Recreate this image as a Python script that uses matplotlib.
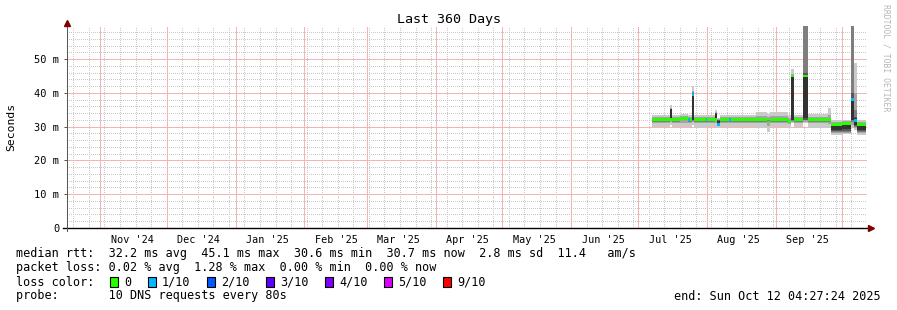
import matplotlib
matplotlib.use('Agg')
import matplotlib.pyplot as plt
import matplotlib.dates as mdates
from matplotlib.patches import Rectangle
import numpy as np
import pandas as pd

plt.rcParams['font.family'] = ['DejaVu Sans Mono', 'DejaVu Sans']

W, H = 897, 310

# time frame of the graph (360 days)
view_start = pd.Timestamp('2024-10-17 12:00')
view_end = pd.Timestamp('2025-10-12 12:00')
y_top_ms = 59.8

# smokeping samples: one entry per consolidated stretch
seg_start = ['2025-07-07 18:00', '2025-07-16 00:00', '2025-07-17 00:00', '2025-07-20 12:00',
             '2025-07-24 00:00', '2025-07-25 00:00', '2025-07-25 18:00', '2025-07-26 18:00',
             '2025-08-01 00:00', '2025-08-01 18:00', '2025-08-05 06:00', '2025-08-06 06:00',
             '2025-08-07 10:00', '2025-08-11 12:00', '2025-08-12 12:00', '2025-08-23 12:00',
             '2025-08-28 12:00', '2025-08-30 00:00', '2025-09-07 00:00', '2025-09-08 12:00',
             '2025-09-10 00:00', '2025-09-14 00:00', '2025-09-16 00:00', '2025-09-25 00:00',
             '2025-09-26 12:00', '2025-10-01 12:00', '2025-10-05 12:00', '2025-10-07 00:00',
             '2025-10-08 04:00']
seg_end = '2025-10-12 06:00'

median_ms = [32.0, 32.0, 32.0, 32.4, 32.0, 32.0, 39.5, 32.0, 32.0, 32.0, 32.0, 30.7,
             32.0, 32.0, 32.0, 32.0, 31.4, 32.0, 31.6, 45.0, 32.0, 45.0, 32.0, 32.0,
             30.6, 30.9, 38.0, 31.8, 30.7]
loss_count = [0, 0, 0, 0, 1, 0, 1, 0, 1, 0, 0, 1,
              0, 1, 0, 0, 0, 0, 0, 0, 0, 0, 0, 0,
              0, 0, 1, 1, 0]

# smoke bands, outer (1/10) to inner (5/6) ping ranks, ms
smoke1_lo = [29.9, 30.5, 29.8, 29.9, 29.8, 29.8, 30.5, 29.7, 29.7, 29.8, 30.0, 29.5,
             29.8, 29.8, 29.8, 29.7, 28.5, 29.8, 29.5, 31.0, 29.8, 31.0, 29.6, 29.5,
             27.6, 27.7, 30.0, 29.0, 27.6]
smoke1_hi = [33.4, 36.4, 33.6, 33.8, 33.6, 33.6, 42.0, 33.5, 33.5, 33.4, 34.8, 32.6,
             33.5, 33.5, 33.6, 34.2, 33.8, 34.2, 33.4, 47.0, 33.5, 70.0, 33.8, 35.5,
             32.0, 32.1, 70.0, 48.8, 32.0]
smoke2_lo = [31.0, 31.4, 31.0, 31.2, 31.0, 31.0, 31.5, 31.0, 31.0, 31.0, 31.2, 30.2,
             31.0, 31.0, 31.0, 31.0, 30.2, 31.0, 30.8, 31.5, 31.0, 31.5, 31.0, 30.8,
             28.1, 28.2, 30.5, 29.5, 28.1]
smoke2_hi = [32.8, 35.6, 32.9, 33.2, 32.9, 32.9, 40.6, 32.8, 32.8, 32.8, 34.2, 32.2,
             32.8, 32.8, 32.9, 33.2, 32.8, 33.2, 32.6, 45.6, 32.9, 70.0, 32.9, 33.6,
             31.5, 31.6, 70.0, 40.0, 31.5]
smoke3_lo = [31.5, 31.8, 31.5, 31.9, 31.5, 31.5, 31.8, 31.5, 31.5, 31.5, 31.7, 30.6,
             31.5, 31.5, 31.5, 31.5, 31.0, 31.5, 31.3, 31.8, 31.5, 32.0, 31.5, 31.5,
             28.4, 28.5, 31.5, 30.0, 28.4]
smoke3_hi = [32.4, 35.3, 32.4, 32.8, 32.4, 32.4, 40.2, 32.4, 32.4, 32.4, 34.0, 32.0,
             32.4, 32.4, 32.4, 32.5, 32.0, 32.5, 32.0, 45.3, 32.4, 66.0, 32.4, 32.5,
             31.2, 31.3, 62.0, 35.0, 31.2]
smoke4_lo = [31.7, 31.9, 31.7, 32.1, 31.7, 31.7, 31.9, 31.7, 31.7, 31.7, 31.9, 30.8,
             31.7, 31.7, 31.7, 31.7, 31.2, 31.7, 31.4, 31.9, 31.7, 32.0, 31.7, 31.7,
             28.7, 28.8, 32.0, 30.2, 28.7]
smoke4_hi = [32.2, 35.2, 32.2, 32.6, 32.2, 32.2, 40.0, 32.2, 32.2, 32.2, 33.9, 31.9,
             32.2, 32.2, 32.2, 32.2, 31.7, 32.2, 31.9, 45.2, 32.2, 46.0, 32.2, 32.2,
             30.9, 31.0, 40.0, 33.0, 30.9]
smoke5_lo = [31.9, 32.0, 31.9, 32.3, 31.9, 31.9, 32.0, 31.9, 31.9, 31.9, 32.0, 31.0,
             31.9, 31.9, 31.9, 31.9, 31.3, 31.9, 31.5, 32.0, 31.9, 32.5, 31.9, 31.9,
             29.0, 29.2, 32.0, 30.5, 29.0]
smoke5_hi = [32.1, 35.1, 32.1, 32.5, 32.1, 32.1, 39.8, 32.1, 32.1, 32.1, 33.8, 31.8,
             32.1, 32.1, 32.1, 32.1, 31.5, 32.1, 31.8, 45.1, 32.1, 45.2, 32.1, 32.1,
             30.4, 30.6, 38.5, 32.5, 30.4]

loss_labels = ['0', '1/10', '2/10', '3/10', '4/10', '5/10', '9/10']
loss_keys = [0, 1, 2, 3, 4, 5, 9]
loss_colors = ['#26ff00', '#00b8ff', '#0059ff', '#5e00ff', '#7e00ff', '#dd00ff', '#ff0000']

rtt_stats = [32.2, 45.1, 30.6, 30.7]
rtt_sd = 2.8
rtt_ams = 11.4
loss_stats = [0.02, 1.28, 0.00, 0.00]
probe_text = '10 DNS requests every 80s'
end_text = 'end: Sun Oct 12 04:27:24 2025'

smoke_colors = ['#cacaca', '#a4a4a4', '#7e7e7e', '#585858', '#323232']
grid_gray = '#c8c8c8'
grid_red = '#f7b2b2'


def px_x(x):
    return x / W


def px_y(y):
    return 1 - y / H


fig = plt.figure(figsize=(W / 100, H / 100), dpi=100)
ax = fig.add_axes([66.7 / W, (H - 228) / H, 800 / W, 202 / H])

t = mdates.date2num(pd.to_datetime(seg_start + [seg_end]))

def ext(v):
    return list(v) + [v[-1]]

bands = [(smoke1_lo, smoke1_hi), (smoke2_lo, smoke2_hi), (smoke3_lo, smoke3_hi),
         (smoke4_lo, smoke4_hi), (smoke5_lo, smoke5_hi)]
for (lo, hi), c in zip(bands, smoke_colors):
    ax.fill_between(t, ext(lo), ext(hi), step='post', color=c, lw=0, zorder=3,
                    antialiased=False)

# median drawn as a thin band in the loss colour
half = 0.42
col_of = dict(zip(loss_keys, loss_colors))
for i, m in enumerate(median_ms):
    ax.fill_between([t[i], t[i + 1]], m - half, m + half, color=col_of[loss_count[i]],
                    lw=0, zorder=4, antialiased=False)

# grid
x0 = mdates.date2num(view_start)
x1 = mdates.date2num(view_end)
minor_kw = dict(lw=0.72, ls=(0, (1, 2)), antialiased=False, color=grid_gray, zorder=1)
major_kw = dict(lw=0.72, ls=(0, (1, 1)), antialiased=False, color=grid_red, zorder=2)
for d in pd.date_range(view_start, view_end, freq='W-SUN'):
    ax.axvline(mdates.date2num(d), **minor_kw)
for d in pd.date_range(view_start, view_end, freq='MS'):
    ax.axvline(mdates.date2num(d), **major_kw)
for v in np.arange(2, 60, 2):
    if v % 10 == 0:
        ax.axhline(v, **major_kw)
    else:
        ax.axhline(v, **minor_kw)

ax.set_xlim(x0, x1)
ax.set_ylim(0, y_top_ms)
for s in ax.spines.values():
    s.set_visible(False)

# axes with arrows
ax.plot([-4 / 800, 1 + 2 / 800], [0, 0], transform=ax.transAxes, clip_on=False,
        color='black', lw=1.0, zorder=6)
ax.plot([0, 0], [-3 / 202, 1], transform=ax.transAxes, clip_on=False,
        color='#555555', lw=0.72, zorder=6, antialiased=False)
ax.plot([1 + 4 / 800], [0], marker='>', ms=4, color='#7f0000', transform=ax.transAxes,
        clip_on=False, zorder=7)
ax.plot([0], [1 + 3 / 202], marker='^', ms=4, color='#7f0000', transform=ax.transAxes,
        clip_on=False, zorder=7)

yt = [0, 10, 20, 30, 40, 50]
ax.set_yticks(yt)
ax.set_yticklabels(['0'] + ['%d m' % v for v in yt[1:]])
ax.tick_params(axis='y', length=2, width=0.72, color='#555555', pad=3.4, labelsize=7.5)

months = pd.date_range('2024-11-01', '2025-09-01', freq='MS')
ax.set_xticks(mdates.date2num(months + pd.Timedelta(days=15)))
ax.set_xticklabels([m.strftime("%b '%y") for m in months])
ax.tick_params(axis='x', length=0, pad=5.0, labelsize=7.3)

# titles
fig.text(0.5, px_y(19), 'Last 360 Days', ha='center', va='center', fontsize=9.6)
fig.text(px_x(11), px_y(127), 'Seconds', rotation=90, ha='center', va='center', fontsize=8.2)
fig.text(px_x(886), px_y(4), 'RRDTOOL / TOBI OETIKER', rotation=270, ha='center', va='top',
         fontsize=5.9, color='#b8b8b8')

# legend block
fs = 8.5
cw = 7.0
row_y = [254, 268, 282, 296]
rtt_line = ('median rtt:  %.1f ms avg  %.1f ms max  %.1f ms min  %.1f ms now  '
            '%.1f ms sd  %.1f   am/s' % (*rtt_stats, rtt_sd, rtt_ams))
loss_line = ('packet loss: %.2f %% avg  %.2f %% max  %.2f %% min  %.2f %% now'
             % tuple(loss_stats))
fig.text(px_x(16), px_y(row_y[0]), rtt_line, va='center', fontsize=fs)
fig.text(px_x(16), px_y(row_y[1]), loss_line, va='center', fontsize=fs)
fig.text(px_x(16), px_y(row_y[2]), 'loss color:', va='center', fontsize=fs)
bx = 110
for lab, c in zip(loss_labels, loss_colors):
    fig.patches.append(Rectangle((px_x(bx), px_y(row_y[2] + 5)), 8 / W, 10 / H,
                                 transform=fig.transFigure, facecolor=c,
                                 edgecolor='black', lw=0.8))
    fig.text(px_x(bx + 14), px_y(row_y[2]), lab, va='center', fontsize=fs)
    bx = bx + 14 + len(lab) * cw + 17
fig.text(px_x(16), px_y(row_y[3]), 'probe:       ' + probe_text, va='center', fontsize=fs)
fig.text(px_x(881), px_y(row_y[3]), end_text, va='center', ha='right', fontsize=fs)

fig.savefig('out.png', dpi=100, facecolor='white')
